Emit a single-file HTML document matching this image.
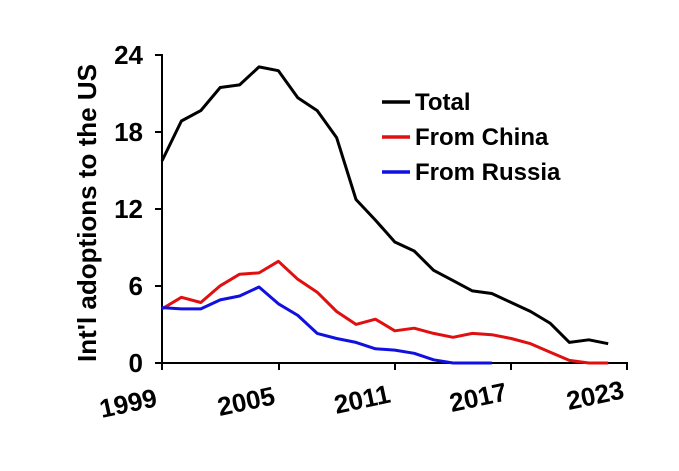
<!DOCTYPE html>
<html><head><style>
body{margin:0;background:#fff;}
svg text{font-family:"Liberation Sans",Arial,sans-serif;font-weight:bold;fill:#000;}
</style></head><body>
<svg id="s" width="679" height="466" viewBox="0 0 679 466" xmlns="http://www.w3.org/2000/svg">
<line x1="162" y1="54" x2="162" y2="364" stroke="#000" stroke-width="2"/>
<line x1="161" y1="363" x2="628" y2="363" stroke="#000" stroke-width="2"/>
<g stroke="#000" stroke-width="2">
<line x1="155" y1="55" x2="162" y2="55"/><line x1="155" y1="132" x2="162" y2="132"/>
<line x1="155" y1="209" x2="162" y2="209"/><line x1="155" y1="286" x2="162" y2="286"/>
<line x1="155" y1="363" x2="162" y2="363"/>
<line x1="162" y1="363" x2="162" y2="370"/><line x1="279" y1="363" x2="279" y2="370"/>
<line x1="395" y1="363" x2="395" y2="370"/><line x1="511" y1="363" x2="511" y2="370"/>
<line x1="627" y1="363" x2="627" y2="370"/>
</g>
<g font-size="26" text-anchor="end">
<text x="143" y="64">24</text><text x="143" y="141">18</text>
<text x="143" y="218">12</text><text x="143" y="295">6</text><text x="143" y="372">0</text>
</g>
<g font-size="26" text-anchor="middle">
<text transform="translate(130,412) rotate(-12)">1999</text>
<text transform="translate(248,410) rotate(-12)">2005</text>
<text transform="translate(364,408) rotate(-12)">2011</text>
<text transform="translate(480,406) rotate(-12)">2017</text>
<text transform="translate(597,404) rotate(-12)">2023</text>
</g>
<text font-size="26" text-anchor="middle" transform="translate(96,213) rotate(-90)">Int'l adoptions to the US</text>
<g stroke-width="3.5">
<line x1="382" y1="102" x2="410" y2="102" stroke="#000"/>
<line x1="382" y1="137" x2="410" y2="137" stroke="#e01010"/>
<line x1="382" y1="172" x2="410" y2="172" stroke="#1010e0"/>
</g>
<g font-size="24">
<text x="415" y="110">Total</text>
<text x="415" y="145">From China</text>
<text x="415" y="180">From Russia</text>
</g>
<polyline fill="none" stroke="#000" stroke-width="3" stroke-linejoin="round" points="162.0,160.9 181.4,121.0 200.8,110.6 220.2,87.5 239.6,84.9 259.0,66.9 278.4,70.7 297.8,97.8 317.2,110.6 336.6,137.6 356.0,199.5 375.4,220.1 394.8,242.0 414.2,251.0 433.6,270.3 453.0,280.6 472.4,290.9 491.8,293.5 511.2,302.5 530.6,311.5 550.0,323.1 569.4,342.4 588.8,339.8 608.2,343.7"/>
<polyline fill="none" stroke="#e01010" stroke-width="3" stroke-linejoin="round" points="162.0,308.9 181.4,297.3 200.8,302.5 220.2,285.8 239.6,274.2 259.0,272.9 278.4,261.3 297.8,279.3 317.2,292.2 336.6,311.5 356.0,324.4 375.4,319.2 394.8,330.8 414.2,328.2 433.6,333.4 453.0,337.3 472.4,333.4 491.8,334.7 511.2,338.5 530.6,343.7 550.0,352.1 569.4,360.4 588.8,363.0 608.2,363.0"/>
<polyline fill="none" stroke="#1010e0" stroke-width="3" stroke-linejoin="round" points="162.0,307.6 181.4,308.9 200.8,308.9 220.2,299.9 239.6,296.0 259.0,287.0 278.4,303.8 297.8,315.4 317.2,333.4 336.6,338.5 356.0,342.4 375.4,348.8 394.8,350.1 414.2,353.3 433.6,359.8 453.0,363.0 472.4,363.0 491.8,363.0"/>
</svg>
</body></html>
